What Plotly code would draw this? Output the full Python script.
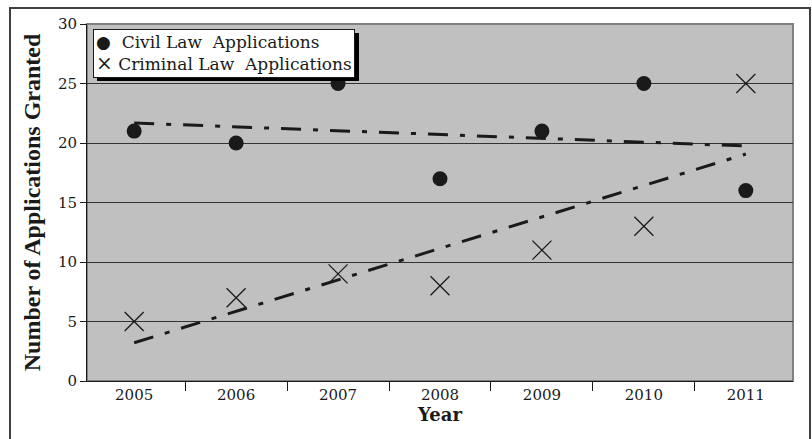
import numpy as np
import plotly.graph_objects as go

years = ["2005", "2006", "2007", "2008", "2009", "2010", "2011"]
civil = [21, 20, 25, 17, 21, 25, 16]
criminal = [5, 7, 9, 8, 11, 13, 25]
y_ticks = [0, 5, 10, 15, 20, 25, 30]
series_names = ["Civil Law  Applications", "Criminal Law  Applications"]

idx = np.arange(len(years))
civil_fit = np.polyval(np.polyfit(idx, civil, 1), idx)
crim_fit = np.polyval(np.polyfit(idx, criminal, 1), idx)

SERIF = "Liberation Serif, Times New Roman, serif"
WIDE = "DejaVu Serif, serif"
dash = "20px,12px,5px,12px"
INK = "#1a1a1a"

fig = go.Figure()
fig.add_trace(go.Scatter(x=years, y=civil_fit, mode="lines", showlegend=False,
                         line=dict(color=INK, width=3, dash=dash), hoverinfo="skip"))
fig.add_trace(go.Scatter(x=years, y=crim_fit, mode="lines", showlegend=False,
                         line=dict(color=INK, width=3, dash=dash), hoverinfo="skip"))
fig.add_trace(go.Scatter(x=years, y=civil, mode="markers", name=series_names[0], showlegend=False,
                         marker=dict(symbol="circle", size=15, color=INK)))
fig.add_trace(go.Scatter(x=years, y=criminal, mode="markers", name=series_names[1], showlegend=False,
                         marker=dict(symbol="x-thin", size=19, color=INK,
                                     line=dict(color=INK, width=1.3))))

W, H = 812, 439
L, R, T, B = 87, 19, 24, 58
pw, ph = W - L - R, H - T - B

def px(x):
    return (x - L) / pw

def py(y):
    return 1 - (y - T) / ph

shapes = [
    dict(type="rect", xref="paper", yref="paper", x0=0, x1=1, y0=0, y1=1,
         line=dict(color="#808080", width=2), layer="below"),
    dict(type="rect", xref="paper", yref="paper", x0=px(10), x1=px(810), y0=py(470), y1=py(8),
         line=dict(color="#404040", width=2)),
    dict(type="rect", xref="paper", yref="paper", x0=px(97), x1=px(359), y0=py(81), y1=py(33),
         fillcolor="#000000", line=dict(width=0), layer="above"),
]

legend_text = "<br>".join(["●  " + series_names[0],
                           "<span style='font-size:20px'>×</span> " + series_names[1]])
annotations = [
    dict(text=legend_text, xref="paper", yref="paper", x=px(93), y=py(29),
         xanchor="left", yanchor="top", align="left", showarrow=False,
         bgcolor="white", bordercolor=INK, borderwidth=1, borderpad=2,
         font=dict(family=WIDE, size=17, color=INK)),
]

fig.update_layout(
    width=W, height=H,
    margin=dict(l=L, r=R, t=T, b=B, pad=0),
    paper_bgcolor="white",
    plot_bgcolor="#c0c0c0",
    font=dict(family=WIDE, size=15, color=INK),
    shapes=shapes,
    annotations=annotations,
    showlegend=False,
    xaxis=dict(type="category", tickson="boundaries", ticks="outside", ticklen=9,
               tickcolor=INK, showline=True, linecolor=INK, linewidth=1,
               showgrid=False, tickfont=dict(family=WIDE, size=15), automargin=False,
               title=dict(text="<b>Year</b>", font=dict(family=WIDE, size=18), standoff=4)),
    yaxis=dict(range=[0, 30], tickvals=y_ticks, ticks="outside", ticklen=6,
               tickcolor=INK, showline=True, linecolor=INK, linewidth=1,
               showgrid=True, gridcolor="#333333", gridwidth=1, zeroline=False,
               tickfont=dict(family=WIDE, size=15), automargin=False,
               title=dict(text="<b>Number of Applications Granted</b>",
                          font=dict(family=SERIF, size=24), standoff=10)),
)

fig.write_html("out.html", config={"displayModeBar": False},
               post_script="document.body.style.margin='0';document.body.style.overflow='hidden';")
